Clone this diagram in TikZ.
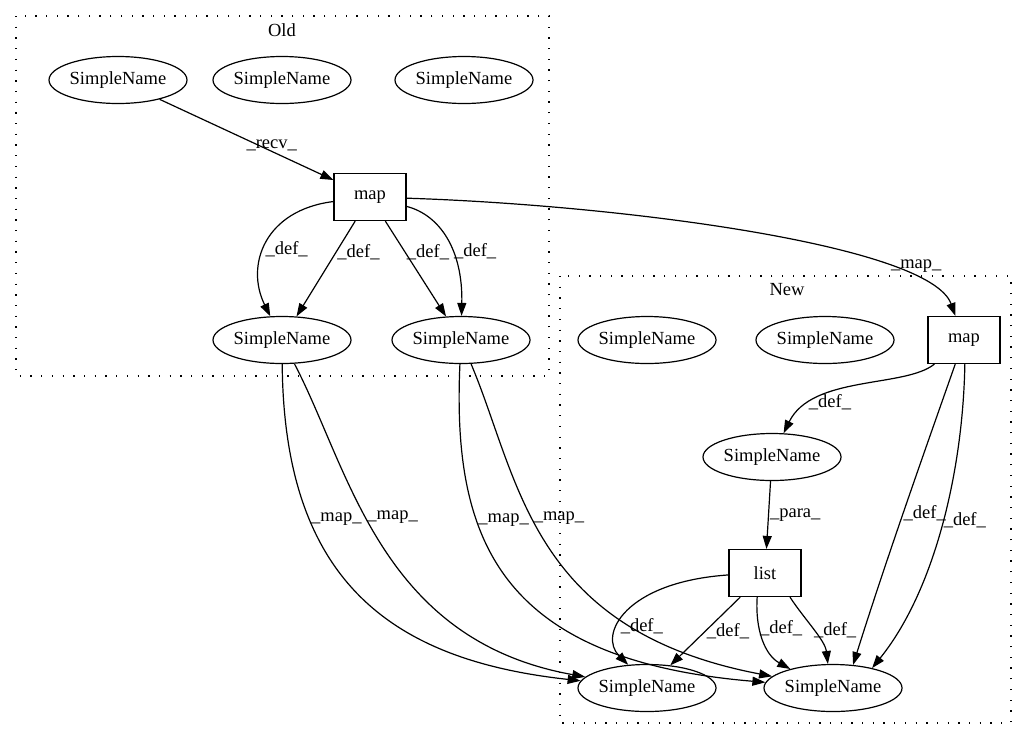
\documentclass[tikz,border=0pt]{standalone}
\usepackage{fontspec}
\setmainfont{Liberation Serif}
\usetikzlibrary{arrows.meta,shapes.geometric}

\begin{document}
\begin{tikzpicture}[x=1pt, y=1pt, font=\fontsize{18.5}{22}\selectfont,
    >={Triangle[length=13pt,width=9pt]},
    flow/.style={draw, ->, line width=1.2pt}]
\useasboundingbox (0,0) rectangle (1027,-740);
% clusters
\begin{scope}[line width=1.3pt, dash pattern=on 1.3pt off 9.4pt]
    \draw (16,-16) rectangle (549,-376);
    \draw (560,-276) rectangle (1011,-723);
\end{scope}
\node (old) at (282,-30) {Old};
\node (new) at (787,-290) {New};
\begin{scope}[every node/.style={ellipse, draw, line width=1.2pt, minimum width=138pt, minimum height=47pt, inner sep=0pt}]
    \node (o1) at (118,-80) {SimpleName};
    \node (o2) at (282,-80) {SimpleName};
    \node (o3) at (464,-80) {SimpleName};
    \node (oSN4) at (282,-340) {SimpleName};
    \node (oSN5) at (461,-340) {SimpleName};
    \node (nSN1) at (647,-340) {SimpleName};
    \node (nSN2) at (825,-340) {SimpleName};
    \node (nSN3) at (772,-457) {SimpleName};
    \node (nSNa) at (647,-688) {SimpleName};
    \node (nSNb) at (833,-688) {SimpleName};
\end{scope}
\begin{scope}[every node/.style={rectangle, draw, line width=1.2pt, minimum width=72pt, minimum height=47pt}]
    \node (omap) at (370,-197) {map};
    \node (nmap) at (964,-340) {map};
    \node (list) at (765,-573) {list};
\end{scope}
\begin{scope}[every node/.style={inner sep=1pt}]
    % old
    \draw[flow] (o1) -- node[pos=0.645, above, inner sep=0pt] {\_recv\_} (omap);
    \draw[flow] (omap) .. controls (265,-210) and (245,-265) .. node[pos=0.55, right] {\_def\_} (oSN4);
    \draw[flow] (omap) -- node[pos=0.33, right] {\_def\_} (oSN4);
    \draw[flow] (omap) -- node[pos=0.33, right] {\_def\_} (oSN5);
    \draw[flow] (omap) .. controls (440,-215) and (463,-250) .. node[pos=0.6, right] {\_def\_} (oSN5);
    \draw[flow] (omap) .. controls (620,-205) and (930,-245) .. node[pos=0.82, above=7pt] {\_map\_} (nmap);
    % old to new
    \draw[flow] (oSN4) .. controls (284,-580) and (390,-660) .. node[pos=0.29, right] {\_map\_} (nSNa);
    \draw[flow] (oSN4) .. controls (350,-470) and (380,-640) .. node[pos=0.42, right] {\_map\_} (nSNa);
    \draw[flow] (oSN5) .. controls (452,-540) and (500,-660) .. node[pos=0.335, right] {\_map\_} (nSNb);
    \draw[flow] (oSN5) .. controls (520,-480) and (530,-630) .. node[pos=0.42, right] {\_map\_} (nSNb);
    % new
    \draw[flow] (nmap) .. controls (905,-388) and (812,-375) .. node[pos=0.66, anchor=north, inner sep=0pt] {\_def\_} (nSN3);
    \draw[flow] (nSN3) -- node[right] {\_para\_} (list);
    \draw[flow] (nmap.-110) .. controls (925,-450) and (886,-560) .. node[pos=0.52, right, inner sep=0pt] {\_def\_} (nSNb.49);
    \draw[flow] (nmap.-88) .. controls (963,-470) and (935,-590) .. node[pos=0.48, right, inner sep=0pt] {\_def\_} (nSNb.27);
    \draw[flow] (list.183) .. controls (625,-582) and (598,-635) .. node[pos=0.63, right] {\_def\_} (nSNa.129);
    \draw[flow] (list) -- node[pos=0.5, right] {\_def\_} (nSNa);
    \draw[flow] (list.-108) .. controls (755,-630) and (765,-655) .. node[pos=0.35, right, inner sep=0pt] {\_def\_} (nSNb.156);
    \draw[flow] (list.-44) .. controls (805,-620) and (825,-640) .. node[pos=0.5, right, inner sep=0pt] {\_def\_} (nSNb.102);
\end{scope}
\end{tikzpicture}
\end{document}
